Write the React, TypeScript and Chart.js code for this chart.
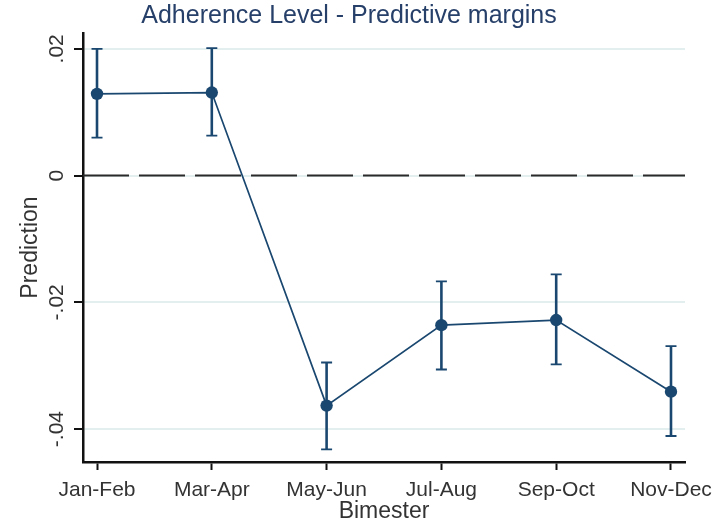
import React, { useEffect, useRef } from "react";
import { Chart, registerables } from "chart.js";

Chart.register(...registerables);

const chartTitle = "Adherence Level - Predictive margins";
const xTitle = "Bimester";
const yTitle = "Prediction";
const categories = ["Jan-Feb", "Mar-Apr", "May-Jun", "Jul-Aug", "Sep-Oct", "Nov-Dec"];
const margins = [0.0129, 0.0131, -0.0363, -0.0236, -0.0228, -0.0341];
const ciLower = [0.006, 0.0063, -0.0432, -0.0306, -0.0298, -0.0411];
const ciUpper = [0.02, 0.0201, -0.0295, -0.0167, -0.0156, -0.0269];
const yTickValues = [0.02, 0, -0.02, -0.04];
const yTickLabels = [".02", "0", "-.02", "-.04"];

const NAVY = "#1a476f";
const GRID = "#e3eeee";
const FONT = "'Liberation Sans', Arial, sans-serif";

const stataPlugin = {
  id: "stataPlugin",
  beforeDatasetsDraw(chart: any) {
    const { ctx, chartArea, scales } = chart;
    const x = scales.x;
    const y = scales.y;
    // dashed reference line at zero
    const y0 = y.getPixelForValue(0);
    ctx.save();
    ctx.strokeStyle = "#2a2a2a";
    ctx.lineWidth = 2;
    ctx.setLineDash([46, 10]);
    ctx.beginPath();
    ctx.moveTo(chartArea.left, y0);
    ctx.lineTo(chartArea.right, y0);
    ctx.stroke();
    ctx.setLineDash([]);
    // confidence intervals
    ctx.strokeStyle = NAVY;
    for (let i = 0; i < categories.length; i++) {
      const px = x.getPixelForValue(i);
      const pl = y.getPixelForValue(ciLower[i]);
      const pu = y.getPixelForValue(ciUpper[i]);
      ctx.lineWidth = 2.6;
      ctx.beginPath();
      ctx.moveTo(px, pl);
      ctx.lineTo(px, pu);
      ctx.stroke();
      ctx.lineWidth = 1.8;
      ctx.beginPath();
      ctx.moveTo(px - 5.5, pl);
      ctx.lineTo(px + 5.5, pl);
      ctx.moveTo(px - 5.5, pu);
      ctx.lineTo(px + 5.5, pu);
      ctx.stroke();
    }
    ctx.restore();
  },
  afterDraw(chart: any) {
    const { ctx, scales } = chart;
    const y = scales.y;
    ctx.save();
    // title
    ctx.fillStyle = "#27406a";
    ctx.font = `25px ${FONT}`;
    ctx.textAlign = "center";
    ctx.textBaseline = "middle";
    ctx.fillText(chartTitle, 349, 16);
    // rotated y tick labels
    ctx.fillStyle = "#333333";
    ctx.font = `21px ${FONT}`;
    for (let i = 0; i < yTickValues.length; i++) {
      const py = y.getPixelForValue(yTickValues[i]);
      ctx.save();
      ctx.translate(57, py);
      ctx.rotate(-Math.PI / 2);
      ctx.textAlign = "center";
      ctx.textBaseline = "middle";
      ctx.fillText(yTickLabels[i], 0, 0);
      ctx.restore();
    }
    ctx.restore();
  },
};

export default function App() {
  const ref = useRef<HTMLCanvasElement | null>(null);
  useEffect(() => {
    if (!ref.current) return;
    const chart = new Chart(ref.current, {
      type: "line",
      data: {
        datasets: [
          {
            data: margins.map((v, i) => ({ x: i, y: v })),
            borderColor: NAVY,
            backgroundColor: NAVY,
            borderWidth: 1.7,
            pointRadius: 6.2,
            pointBackgroundColor: NAVY,
            pointBorderColor: NAVY,
            pointBorderWidth: 0,
            tension: 0,
          },
        ],
      },
      options: {
        animation: false,
        responsive: false,
        maintainAspectRatio: false,
        layout: { padding: { top: 33, right: 40, left: 0, bottom: 0 } },
        plugins: { legend: { display: false }, tooltip: { enabled: false }, title: { display: false } },
        scales: {
          x: {
            type: "linear",
            min: -0.122,
            max: 5.122,
            afterBuildTicks: (s: any) => {
              s.ticks = categories.map((_, i) => ({ value: i }));
            },
            afterFit: (s: any) => {
              s.height = 63;
            },
            ticks: {
              autoSkip: false,
              maxRotation: 0,
              minRotation: 0,
              padding: 8,
              color: "#333333",
              font: { family: FONT, size: 21 },
              callback: (v: any) => categories[Math.round(Number(v))],
            },
            grid: { display: true, drawOnChartArea: false, drawTicks: true, tickLength: 8, tickColor: "#111111", tickWidth: 2 },
            border: { display: true, color: "#111111", width: 2.5 },
            title: { display: true, text: xTitle, color: "#333333", font: { family: FONT, size: 23 }, padding: { top: 0, bottom: 0 } },
          },
          y: {
            type: "linear",
            min: -0.0452,
            max: 0.0225,
            afterBuildTicks: (s: any) => {
              s.ticks = yTickValues.map((v) => ({ value: v }));
            },
            afterFit: (s: any) => {
              s.width = 83;
            },
            ticks: { display: false },
            grid: { display: true, drawOnChartArea: true, color: GRID, lineWidth: 2, drawTicks: true, tickLength: 9, tickColor: "#111111", tickWidth: 2 },
            border: { display: true, color: "#111111", width: 2.5 },
            title: { display: true, text: yTitle, color: "#333333", font: { family: FONT, size: 23 }, padding: { top: 17, bottom: 0 } },
          },
        },
      },
      plugins: [stataPlugin],
    });
    return () => chart.destroy();
  }, []);
  return (
    <div style={{ position: "fixed", left: 0, top: 0, width: 725, height: 525, background: "#ffffff" }}>
      <canvas ref={ref} width={725} height={525} style={{ display: "block", width: 725, height: 525 }} />
    </div>
  );
}
